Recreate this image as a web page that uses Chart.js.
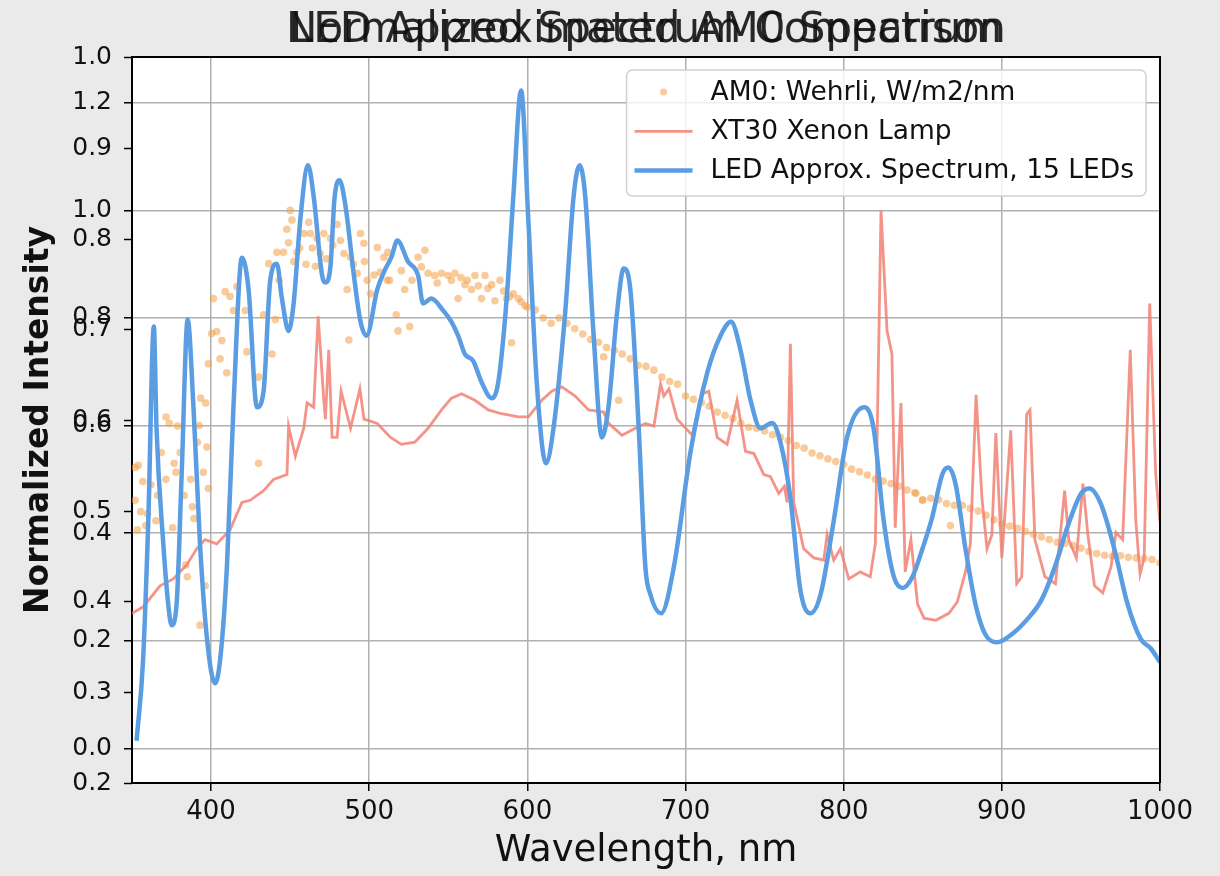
<!DOCTYPE html>
<html><head><meta charset="utf-8">
<script src="https://cdn.jsdelivr.net/npm/chart.js@4.4.1/dist/chart.umd.min.js"></script>
<style>
html,body{margin:0;padding:0;background:#eaeaea;}
body{width:1220px;height:876px;overflow:hidden;}
canvas{display:block;}
</style></head><body>
<canvas id="c" width="1220" height="876"></canvas>
<script>
// ---------- text ----------
const titleMain = "Normalized Spectrum Comparison";
const titleOverlay = "LED Approximated AM0 Spectrum";
const xLabel = "Wavelength, nm";
const yLabel = "Normalized Intensity";
const labelAM0 = "AM0: Wehrli, W/m2/nm";
const labelXenon = "XT30 Xenon Lamp";
const labelLED = "LED Approx. Spectrum, 15 LEDs";

// ---------- tick labels ----------
const xTicks = [400, 500, 600, 700, 800, 900, 1000];
const yTicksOuter = [0.0, 0.2, 0.4, 0.6, 0.8, 1.0, 1.2];
const yTicksInner = [0.2, 0.3, 0.4, 0.5, 0.6, 0.7, 0.8, 0.9, 1.0];

// ---------- LED approx spectrum ----------
const ledWl = [352.9,357,360.3,363.8,365.5,369.8,372.9,375,378.2,381.4,385.2,388.8,393,397.3,402.5,405.7,410,414.2,419.5,423.7,429,433.2,437.4,441.6,444.8,449,452.2,456.4,461.3,464.9,470.2,472.3,475.5,478,481.2,485,490.3,494.5,498.3,505.1,509.7,514,517.8,524.5,530.9,534,539.3,546.7,552,556.2,560.5,565.8,571,577.4,581.6,586.9,591.1,596,600.6,605.9,611.8,616.5,623.9,629.2,633,636.6,641.9,647.1,651.4,656.7,660.9,665.1,670.4,674.6,677.9,684.6,692.6,703.2,713.7,722.1,728.8,734.7,741.1,747.4,754.7,760,766.3,772.6,778.9,785.3,793.7,802.1,813,818.9,825.3,831.6,837.2,843.5,849.8,856.1,862.3,866.1,870.7,877,883.3,889.5,896.9,906.3,916.7,925.1,933.5,941.8,950.2,955.4,962.8,971.1,979.5,987.9,994.1,1000];
const ledVal = [0.014,0.164,0.423,0.784,0.595,0.380,0.268,0.229,0.268,0.509,0.797,0.638,0.380,0.207,0.121,0.164,0.337,0.638,0.912,0.853,0.634,0.664,0.870,0.901,0.836,0.776,0.827,0.982,1.084,1.025,0.879,0.866,0.896,1.021,1.056,1.008,0.879,0.793,0.767,0.853,0.888,0.913,0.944,0.905,0.879,0.827,0.836,0.814,0.793,0.767,0.733,0.720,0.681,0.651,0.681,0.836,1.025,1.223,0.982,0.681,0.530,0.595,0.810,1.025,1.084,1.025,0.767,0.578,0.638,0.810,0.892,0.853,0.595,0.337,0.285,0.251,0.337,0.552,0.698,0.767,0.793,0.741,0.647,0.595,0.605,0.569,0.466,0.294,0.251,0.285,0.423,0.578,0.634,0.595,0.423,0.320,0.298,0.319,0.371,0.431,0.509,0.522,0.492,0.371,0.268,0.212,0.197,0.212,0.242,0.276,0.337,0.414,0.474,0.483,0.453,0.371,0.268,0.203,0.186,0.160];

// ---------- XT30 xenon lamp ----------
const xeWl = [350,357.1,367.7,376.1,384.6,390.9,396.2,403.6,412,419.5,424.7,433.2,439.5,448,449,453.3,458.6,460.7,464.9,467.7,471.3,472.3,474.4,476.5,479.7,482.2,488.2,494.1,496.7,505.1,513.5,520.3,528.8,537.2,545.7,552,558.4,566.8,575.3,583.7,594.3,600.6,609.1,615.4,621.8,630.2,638.7,648.2,651.4,659.8,668.3,674.6,680,684.2,686.3,689.5,694.7,704.2,710.5,714.7,720,726.3,732.6,737.9,743.2,749.5,753.7,758.9,762.5,764.2,766.3,768.4,774.7,781.1,787.4,789.5,793.7,797.9,803.2,810.5,816.8,820,823.6,827.4,830.5,832.6,836.2,838.9,842.5,846.7,850.8,858.2,866.5,871.8,877,880.1,883.7,887.4,890.6,893.7,896.2,900,905.6,909.4,912.6,915.7,917.8,920.9,927.2,933.9,939.7,942.3,947.1,951.3,954.4,958.6,963.8,969,972.2,976.4,981.2,984.7,987.4,990,993.5,997.3,1000];
const xeVal = [0.251,0.263,0.302,0.315,0.341,0.371,0.388,0.380,0.406,0.457,0.461,0.479,0.500,0.509,0.599,0.543,0.595,0.642,0.634,0.803,0.647,0.612,0.741,0.578,0.578,0.664,0.595,0.668,0.612,0.604,0.578,0.565,0.569,0.595,0.629,0.651,0.659,0.647,0.629,0.622,0.616,0.616,0.647,0.664,0.672,0.655,0.629,0.625,0.604,0.582,0.595,0.604,0.599,0.677,0.655,0.668,0.612,0.582,0.659,0.664,0.578,0.565,0.647,0.552,0.548,0.509,0.505,0.474,0.487,0.457,0.752,0.457,0.371,0.354,0.350,0.397,0.350,0.371,0.315,0.328,0.319,0.380,1.0,0.776,0.733,0.41,0.642,0.328,0.388,0.268,0.242,0.238,0.251,0.272,0.328,0.380,0.657,0.466,0.371,0.397,0.586,0.354,0.591,0.306,0.319,0.621,0.629,0.388,0.319,0.306,0.479,0.388,0.354,0.492,0.397,0.302,0.289,0.337,0.401,0.388,0.741,0.423,0.324,0.354,0.827,0.509,0.42];

// ---------- AM0 Wehrli (scatter) ----------
const amWl = [352,354,356.8,352,353.4,358.7,359.8,371.5,373.6,378.8,376.7,371.5,377.8,366.2,365.1,375.7,384,385,387.1,388.2,389.2,391.3,393.4,396.6,395.1,398.3,396.2,393,398.3,400.4,401.5,403.6,406.8,405.7,409.9,408.9,412,414.2,416.3,421.6,422.6,430,430,433.2,438.5,440.6,436.4,441.6,445.8,447.9,450,451.1,452.2,454.3,458.6,461.7,462.8,466,467,471.3,475.5,479.7,481.8,486,487.1,488.2,492.4,494.5,496.6,498.7,500.8,505.1,509.3,511.4,
355.5,362,368.5,380.5,383,392.5,397.4,443,449,456,460,464,469,473,477,484,490,497,503,507,
511.8,512.9,517.1,518.2,525.6,520.3,522.4,530.9,535.2,537.2,541.4,545.7,549.9,554.2,556.2,560.5,564.7,566.8,571,573.2,577.4,579.5,582.7,586.9,590,591.1,594.3,598.5,
527,533,543,552,558,562,569,575,585,589,596,
600,605,610,615,620,625,630,635,640,645,650,655,660,665,670,675,680,685,690,695,700,705,710,715,720,725,730,735,740,745,750,755,760,765,770,775,780,785,790,795,800,805,810,815,820,825,830,835,840,845,850,855,860,865,870,875,880,885,890,895,900,905,910,915,920,925,930,935,940,945,950,955,960,965,970,975,980,985,990,995,1000,
657.7,648.2,867.5,845.6,849.8];
const amVal = [0.522,0.526,0.496,0.461,0.406,0.414,0.436,0.616,0.604,0.599,0.530,0.500,0.513,0.470,0.423,0.410,0.341,0.319,0.500,0.449,0.427,0.569,0.651,0.642,0.513,0.483,0.302,0.229,0.715,0.771,0.836,0.775,0.758,0.724,0.698,0.849,0.840,0.814,0.858,0.814,0.737,0.530,0.690,0.806,0.733,0.797,0.901,0.922,0.922,0.965,1.0,0.982,0.905,0.922,0.957,0.978,0.957,0.896,0.948,0.957,0.948,0.974,0.944,0.853,0.759,0.913,0.883,0.957,0.939,0.870,0.845,0.931,0.913,0.870,
0.44,0.49,0.55,0.55,0.47,0.60,0.56,0.87,0.94,0.93,0.90,0.93,0.92,0.91,0.935,0.92,0.90,0.905,0.88,0.885,
0.922,0.870,0.806,0.776,0.784,0.888,0.853,0.913,0.926,0.883,0.879,0.883,0.879,0.883,0.836,0.862,0.853,0.879,0.836,0.879,0.862,0.832,0.870,0.836,0.754,0.845,0.836,0.823,
0.87,0.895,0.865,0.87,0.875,0.87,0.86,0.855,0.85,0.84,0.83,
0.82,0.815,0.80,0.79,0.80,0.79,0.78,0.77,0.76,0.755,0.745,0.74,0.733,0.724,0.712,0.71,0.703,0.69,0.682,0.677,0.655,0.649,0.643,0.636,0.625,0.619,0.613,0.604,0.597,0.595,0.59,0.583,0.578,0.572,0.563,0.558,0.549,0.544,0.538,0.533,0.528,0.519,0.514,0.508,0.500,0.497,0.492,0.487,0.48,0.475,0.462,0.465,0.462,0.455,0.452,0.452,0.446,0.441,0.433,0.425,0.418,0.413,0.409,0.403,0.398,0.393,0.388,0.383,0.381,0.377,0.372,0.366,0.362,0.359,0.357,0.358,0.355,0.354,0.353,0.351,0.345,
0.647,0.728,0.414,0.474,0.461];

const toPts = (xs, ys) => xs.map((x, i) => ({x: x, y: ys[i]}));

const FONT = '"DejaVu Sans", "Liberation Sans", sans-serif';
const TITLE_SIZE = 42;
const TITLE_PAD = {top: 6, bottom: 0.6};
const Y_AXIS_W = 132;

const plotBg = {
  id: 'plotBg',
  afterLayout(chart) {
    // overlay the outer y axis onto the same strip as the inner one
    const outer = chart.scales.yOuter;
    const inner = chart.scales.yInner;
    outer.left = inner.left;
    outer.right = inner.right;
  },
  beforeDraw(chart) {
    const {ctx, chartArea: a} = chart;
    ctx.save();
    ctx.fillStyle = '#ffffff';
    ctx.fillRect(a.left, a.top, a.right - a.left, a.bottom - a.top);
    ctx.restore();
  }
};

const boxLegend = {
  id: 'boxLegend',
  beforeDatasetsDraw(chart) {
    const {ctx, chartArea: a} = chart;
    const items = chart.data.datasets;
    ctx.save();
    ctx.font = '26.5px ' + FONT;
    let maxW = 0;
    items.forEach(d => { maxW = Math.max(maxW, ctx.measureText(d.label).width); });
    const w = 84 + maxW + 12, h = 126;
    const x = a.right - 14 - w, y = a.top + 13;
    ctx.beginPath();
    ctx.roundRect(x, y, w, h, 6);
    ctx.fillStyle = 'rgba(255,255,255,0.8)';
    ctx.fill();
    ctx.lineWidth = 1.5;
    ctx.strokeStyle = 'rgba(204,204,204,0.9)';
    ctx.stroke();
    ctx.textBaseline = 'middle';
    ctx.textAlign = 'left';
    items.forEach((d, i) => {
      const cy = y + 22 + i * 39.3;
      if (d.showLine) {
        ctx.beginPath();
        ctx.moveTo(x + 8, cy);
        ctx.lineTo(x + 66, cy);
        ctx.strokeStyle = d.borderColor;
        ctx.lineWidth = d.borderWidth;
        ctx.stroke();
      } else {
        ctx.beginPath();
        ctx.arc(x + 37, cy, 3.5, 0, Math.PI * 2);
        ctx.fillStyle = d.backgroundColor;
        ctx.fill();
      }
      ctx.fillStyle = '#111';
      ctx.fillText(d.label, x + 84, cy + 1);
    });
    ctx.restore();
  }
};

const frameAndOverlay = {
  id: 'frameAndOverlay',
  afterDraw(chart) {
    const {ctx, chartArea: a} = chart;
    ctx.save();
    ctx.strokeStyle = '#000';
    ctx.lineWidth = 2;
    ctx.beginPath();
    ctx.moveTo(a.left, a.top); ctx.lineTo(a.right, a.top); ctx.lineTo(a.right, a.bottom);
    ctx.stroke();
    const tb = chart.titleBlock;
    ctx.font = TITLE_SIZE + 'px ' + FONT;
    ctx.textAlign = 'center';
    ctx.textBaseline = 'middle';
    ctx.fillStyle = 'rgba(17,17,17,0.9)';
    ctx.fillText(titleOverlay, (tb.left + tb.right) / 2, tb.top + TITLE_PAD.top + TITLE_SIZE * 1.2 / 2);
    ctx.restore();
  }
};

new Chart(document.getElementById('c'), {
  type: 'scatter',
  data: {
    datasets: [
      {
        label: labelAM0,
        data: toPts(amWl, amVal),
        yAxisID: 'yOuter',
        showLine: false,
        pointRadius: 3.8,
        pointBorderWidth: 0,
        backgroundColor: 'rgba(244,160,72,0.55)',
        borderColor: 'rgba(244,160,72,0.55)',
        order: 2
      },
      {
        label: labelXenon,
        data: toPts(xeWl, xeVal),
        yAxisID: 'yOuter',
        showLine: true,
        pointRadius: 0,
        borderWidth: 2.8,
        borderColor: 'rgba(242,128,114,0.85)',
        backgroundColor: 'rgba(242,128,114,0.85)',
        tension: 0,
        order: 1
      },
      {
        label: labelLED,
        data: toPts(ledWl, ledVal),
        yAxisID: 'yOuter',
        showLine: true,
        pointRadius: 0,
        borderWidth: 4.5,
        borderColor: '#5a9de3',
        backgroundColor: '#5a9de3',
        cubicInterpolationMode: 'monotone',
        order: 0
      }
    ]
  },
  options: {
    responsive: false,
    animation: false,
    devicePixelRatio: 1,
    layout: {padding: {left: -Y_AXIS_W, right: 60, top: 0, bottom: 0}},
    plugins: {
      legend: {display: false},
      tooltip: {enabled: false},
      title: {
        display: true,
        text: titleMain,
        fullSize: false,
        color: 'rgba(17,17,17,0.9)',
        font: {family: FONT, size: TITLE_SIZE, weight: 'normal', lineHeight: 1.2},
        padding: TITLE_PAD
      }
    },
    scales: {
      x: {
        type: 'linear',
        min: 350, max: 1000,
        afterFit(s) { s.height = 93; },
        afterBuildTicks(s) { s.ticks = xTicks.map(v => ({value: v})); },
        grid: {color: '#b0b0b0', lineWidth: 1.5, tickColor: '#000', tickLength: 8, tickWidth: 1.5},
        border: {color: '#000', width: 2},
        ticks: {color: '#111', font: {family: FONT, size: 26}, padding: 6, maxRotation: 0,
                callback: v => String(v)},
        title: {display: true, text: xLabel, color: '#111', font: {family: FONT, size: 37}, padding: {top: 0, bottom: 2}}
      },
      yInner: {
        type: 'linear',
        position: 'left',
        weight: 0,
        min: 0.2, max: 1.0011,
        afterFit(s) { s.width = Y_AXIS_W; },
        afterBuildTicks(s) { s.ticks = yTicksInner.map(v => ({value: v})); },
        grid: {drawOnChartArea: false, tickColor: '#000', tickLength: 8, tickWidth: 1.5},
        border: {display: false},
        ticks: {color: '#111', font: {family: FONT, size: 25}, padding: 12, callback: v => v.toFixed(1)}
      },
      yOuter: {
        type: 'linear',
        position: 'left',
        weight: 1,
        min: -0.0645, max: 1.2852,
        afterFit(s) { s.width = Y_AXIS_W; },
        afterBuildTicks(s) { s.ticks = yTicksOuter.map(v => ({value: v})); },
        grid: {color: '#b0b0b0', lineWidth: 1.5, tickColor: '#000', tickLength: 8, tickWidth: 1.5},
        border: {color: '#000', width: 2},
        ticks: {color: '#111', font: {family: FONT, size: 25}, padding: 12, callback: v => v.toFixed(1)},
        title: {display: true, text: yLabel, color: '#111', font: {family: FONT, size: 33, weight: 'bold'}, padding: {top: 20, bottom: 0}}
      }
    }
  },
  plugins: [plotBg, boxLegend, frameAndOverlay]
});
</script>
</body></html>
